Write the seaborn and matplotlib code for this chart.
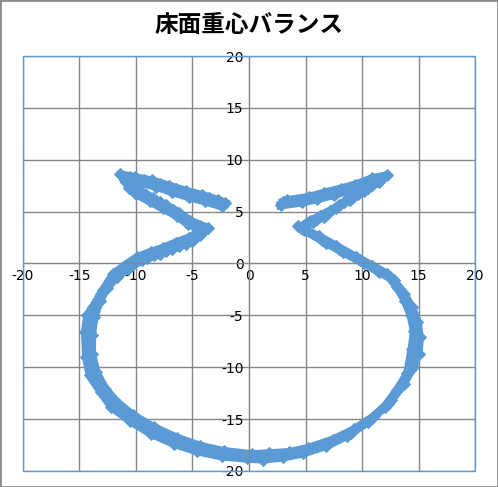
import numpy as np
import pandas as pd
import matplotlib
matplotlib.use('Agg')
import matplotlib.pyplot as plt
from matplotlib.patches import Rectangle
import seaborn as sns

# 重心の軌跡 (3周分, グラフから読み取り)
x_lap1 = [-2.1, -3.5, -5.0, -6.5, -7.9, -9.3, -10.5, -10.2, -9.6, -8.5, -7.3, -6.2, -5.2, -3.6,
          -4.3, -5.0, -6.2, -7.3, -8.4, -9.5, -10.7, -11.7, -12.6, -13.2, -13.7, -13.9, -13.9,
          -13.5, -12.7, -11.6, -10.0, -8.1, -6.1, -4.1, -2.0,
          0.0, 1.5, 3.3, 5.0, 7.1, 9.0, 10.8, 12.3, 13.4, 14.2, 14.7, 14.8, 14.6, 14.1, 13.4,
          12.5, 11.2, 9.8, 8.0, 6.5, 4.6,
          5.1, 6.0, 6.9, 8.0, 9.2, 10.5, 11.8,
          10.5, 9.0, 7.8, 6.3, 5.0, 3.0]
y_lap1 = [5.8, 6.3, 6.7, 7.2, 7.7, 8.0, 8.3, 7.6, 7.0, 6.3, 5.6, 4.9, 4.1, 3.4,
          2.7, 2.2, 1.7, 1.2, 0.8, 0.3, -0.5, -1.3, -2.4, -3.6, -5.2, -6.9, -8.7,
          -10.5, -12.1, -13.5, -14.9, -16.1, -17.1, -17.8, -18.3,
          -18.6, -18.6, -18.4, -18.0, -17.3, -16.3, -15.0, -13.5, -11.9, -10.3, -8.5, -6.8, -5.3,
          -3.9, -2.6, -1.3, -0.5, 0.3, 1.4, 2.3, 3.4,
          3.9, 4.3, 4.8, 5.6, 6.4, 7.3, 8.2,
          7.9, 7.3, 6.9, 6.5, 6.2, 5.9]

x_lap2 = [-2.4, -3.9, -5.3, -6.8, -8.2, -9.7, -11.0, -10.6, -10.0, -8.8, -7.6, -6.4, -5.4, -4.0,
          -4.6, -5.3, -6.5, -7.6, -8.7, -9.9, -11.0, -12.0, -12.9, -13.5, -14.0, -14.3, -14.2,
          -13.9, -13.0, -11.9, -10.3, -8.4, -6.4, -4.3, -2.2,
          0.3, 1.8, 3.5, 5.2, 7.4, 9.3, 11.1, 12.6, 13.7, 14.5, 15.0, 15.1, 14.9, 14.4, 13.7,
          12.8, 11.5, 10.2, 8.3, 6.8, 4.9,
          5.4, 6.3, 7.2, 8.4, 9.6, 10.9, 12.2,
          10.9, 9.4, 8.1, 6.6, 5.3, 3.4]
y_lap2 = [5.5, 6.0, 6.4, 6.9, 7.4, 7.8, 8.0, 7.3, 6.7, 6.0, 5.3, 4.6, 3.8, 3.2,
          2.9, 2.5, 2.0, 1.5, 1.1, 0.6, -0.2, -1.0, -2.6, -3.9, -5.5, -7.2, -8.9,
          -10.2, -11.9, -13.2, -14.6, -15.8, -16.8, -17.6, -18.1,
          -18.4, -18.3, -18.2, -17.8, -17.0, -16.0, -14.7, -13.2, -11.6, -10.0, -8.7, -7.1, -5.6,
          -4.2, -2.9, -1.6, -0.8, 0.0, 1.1, 2.0, 3.2,
          4.1, 4.6, 5.1, 5.9, 6.7, 7.6, 8.5,
          8.2, 7.6, 7.2, 6.8, 6.4, 6.1]

x_lap3 = [-2.7, -4.2, -5.6, -7.1, -8.6, -10.1, -11.4, -10.9, -10.4, -9.1, -7.9, -6.7, -5.7, -4.3,
          -4.9, -5.6, -6.8, -7.9, -9.0, -10.2, -11.3, -12.3, -13.1, -13.8, -14.3, -14.5, -14.4,
          -14.1, -13.1, -12.2, -10.5, -8.7, -6.6, -4.6, -2.4,
          -0.2, 1.2, 3.0, 4.8, 6.8, 8.7, 10.5, 12.0, 13.1, 14.0, 14.4, 14.6, 14.3, 13.8, 13.1,
          12.2, 10.9, 9.5, 7.7, 6.2, 4.3,
          4.8, 5.7, 6.6, 7.7, 8.9, 10.2, 11.5,
          10.2, 8.7, 7.5, 6.0, 4.7, 2.8]
y_lap3 = [6.1, 6.6, 7.0, 7.5, 8.0, 8.3, 8.6, 7.9, 7.3, 6.6, 5.9, 5.2, 4.4, 3.6,
          2.4, 1.9, 1.4, 0.9, 0.5, 0.0, -0.8, -1.6, -2.9, -4.2, -5.0, -6.6, -9.0,
          -10.8, -12.4, -13.8, -15.2, -16.4, -17.4, -18.1, -18.6,
          -18.8, -18.9, -18.7, -18.3, -17.6, -16.6, -15.3, -13.8, -12.2, -10.6, -8.2, -6.5, -5.0,
          -3.6, -2.3, -1.0, -0.2, 0.6, 1.7, 2.6, 3.6,
          3.6, 4.0, 4.5, 5.3, 6.1, 7.0, 7.9,
          7.6, 7.0, 6.6, 6.2, 5.9, 5.6]

laps = [(x_lap1, y_lap1), (x_lap2, y_lap2), (x_lap3, y_lap3)]
df = pd.concat([pd.DataFrame({'x': lx, 'y': ly, 'lap': i})
                for i, (lx, ly) in enumerate(laps)], ignore_index=True)

ticks = [-20, -15, -10, -5, 0, 5, 10, 15, 20]
line_color = '#5B9BD5'

fig = plt.figure(figsize=(4.98, 4.87), dpi=100)
ax = fig.add_axes([0.046, 0.033, 0.908, 0.852])

sns.lineplot(data=df, x='x', y='y', units='lap', sort=False, estimator=None, ax=ax,
             color=line_color, linewidth=6, marker='D', markersize=6,
             markeredgecolor=line_color)

ax.set_xlim(-20, 20)
ax.set_ylim(-20, 20)
ax.set_xticks(ticks)
ax.set_yticks(ticks)
ax.set_xticklabels([str(t) for t in ticks], fontsize=8.5)
ax.set_yticklabels([str(t) for t in ticks], fontsize=8.5)
ax.set_xlabel('')
ax.set_ylabel('')
ax.grid(True, color='#878787', linewidth=1)
ax.set_axisbelow(True)

# 軸を原点で交差させる
ax.spines['left'].set_position('zero')
ax.spines['bottom'].set_position('zero')
ax.spines['left'].set_color('#878787')
ax.spines['bottom'].set_color('#878787')
ax.spines['top'].set_visible(False)
ax.spines['right'].set_visible(False)
ax.tick_params(length=0, pad=4)

# プロットエリアの枠
ax.add_patch(Rectangle((0, 0), 1, 1, transform=ax.transAxes, fill=False,
                       edgecolor=line_color, linewidth=1, clip_on=False, zorder=5))

fig.text(0.5, 0.948, '床面重心バランス', ha='center', va='center', fontsize=17,
         fontweight='bold', family=['Noto Sans CJK JP', 'DejaVu Sans'])

fig.add_artist(Rectangle((0, 0), 1, 1, transform=fig.transFigure, fill=False,
                         edgecolor='#8c8c8c', linewidth=2))

fig.savefig('out.png', dpi=100)
